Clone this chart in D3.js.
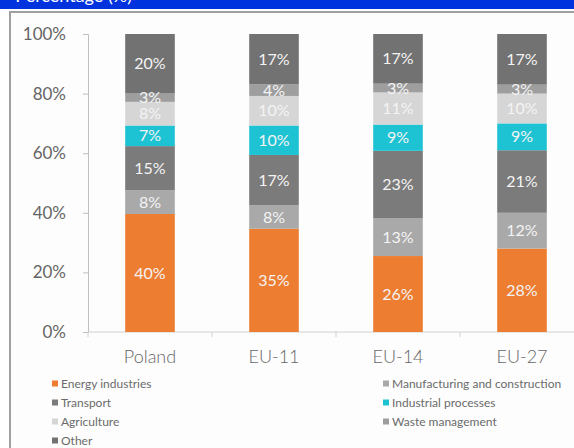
<!DOCTYPE html>
<html><head><meta charset="utf-8">
<script src="https://cdn.jsdelivr.net/npm/d3@7"></script>
<style>
html,body{margin:0;padding:0;background:#fff;}
svg{display:block;font-family:Lato,"Open Sans",sans-serif;}
</style></head>
<body>
<svg id="chart" width="574" height="448"></svg>
<script>
const categories = ["Poland", "EU-11", "EU-14", "EU-27"];
const seriesNames = ["Energy industries", "Manufacturing and construction", "Transport", "Industrial processes", "Agriculture", "Waste management", "Other"];
const energy        = [40, 35, 26, 28];
const manufacturing = [8, 8, 13, 12];
const transport     = [15, 17, 23, 21];
const industrial    = [7, 10, 9, 9];
const agriculture   = [8, 10, 11, 10];
const waste         = [3, 4, 3, 3];
const other         = [20, 17, 17, 17];
const yTicks = [0, 0.2, 0.4, 0.6, 0.8, 1];
const colors = ["#ED7D31", "#A9A9A9", "#7B7B7B", "#1EC3D3", "#D6D6D6", "#9E9E9E", "#727272"];

const seriesValues = [energy, manufacturing, transport, industrial, agriculture, waste, other];
const rows = categories.map((c, i) => {
  const r = {cat: c};
  seriesNames.forEach((s, j) => r[s] = seriesValues[j][i]);
  return r;
});
const stacked = d3.stack().keys(seriesNames).offset(d3.stackOffsetExpand)(rows);

const svg = d3.select("#chart");
// header band
svg.append("rect").attr("x",0).attr("y",0).attr("width",574).attr("height",9).attr("fill","#0033DD");
svg.append("text").attr("x",132).attr("y",2).attr("text-anchor","end").attr("font-size",18)
  .attr("fill","#fff").text("Percentage (%)");
// frame
svg.append("rect").attr("x",10).attr("y",12).attr("width",570).attr("height",440).attr("fill","#fdfdfd")
  .attr("stroke","#a0a0a0").attr("stroke-width",2);

const x = d3.scaleBand().domain(categories).range([88, 584]).paddingInner(0.6).paddingOuter(0.3);
const y = d3.scaleLinear().domain([0, 1]).range([332, 34]);

// y axis
const yAxis = svg.append("g").attr("transform","translate(88,0)")
  .call(d3.axisLeft(y).tickValues(yTicks).tickFormat(d3.format(".0%")).tickSize(5).tickPadding(17));
yAxis.select(".domain").attr("stroke","#bfbfbf");
yAxis.selectAll(".tick line").attr("stroke","#bfbfbf");
yAxis.selectAll(".tick text").attr("fill","#656565").attr("font-size",17).attr("font-family","Lato");

// x axis line and tick marks at category boundaries
const step = x.step();
const bounds = categories.map(c => x(c) + x.bandwidth()/2 - step/2).concat([x(categories[3]) + x.bandwidth()/2 + step/2]);
svg.append("line").attr("x1",88).attr("x2",574).attr("y1",332).attr("y2",332).attr("stroke","#d0d0d0");
svg.selectAll(".xt").data(bounds).join("line").attr("class","xt")
  .attr("x1",d=>d).attr("x2",d=>d).attr("y1",332).attr("y2",337).attr("stroke","#d0d0d0");
svg.selectAll(".xl").data(categories).join("text").attr("class","xl")
  .attr("x",d=>x(d)+x.bandwidth()/2).attr("y",363).attr("text-anchor","middle")
  .attr("font-size",18).attr("fill","#666").attr("font-weight",300).text(d=>d);

// bars
const layer = svg.selectAll(".layer").data(stacked).join("g").attr("class","layer")
  .attr("fill",(d,i)=>colors[i]);
layer.selectAll("rect").data(d=>d).join("rect")
  .attr("x",d=>x(d.data.cat)).attr("width",x.bandwidth())
  .attr("y",d=>y(d[1])).attr("height",d=>y(d[0])-y(d[1]));
// labels
const lab = svg.selectAll(".lab").data(stacked).join("g").attr("class","lab");
lab.selectAll("text").data(d=>d.map(p=>({p, key:d.key}))).join("text")
  .attr("x",d=>x(d.p.data.cat)+x.bandwidth()/2)
  .attr("y",d=>(y(d.p[0])+y(d.p[1]))/2)
  .attr("dy","0.35em").attr("text-anchor","middle").attr("font-size",16)
  .attr("fill","#f4f4f4")
  .text(d=>d.p.data[d.key]+"%");

// legend
const legendPos = [
  [52,384],[383,384],
  [52,403],[383,403],
  [52,422],[383,422],
  [52,441]
];
const leg = svg.selectAll(".leg").data(seriesNames).join("g").attr("class","leg")
  .attr("transform",(d,i)=>`translate(${legendPos[i][0]},${legendPos[i][1]})`);
leg.append("rect").attr("x",0).attr("y",-3.5).attr("width",6).attr("height",6).attr("fill",(d,i)=>colors[i]);
leg.append("text").attr("x",9).attr("dy","0.35em").attr("font-size",12).attr("fill","#6b6b6b").text(d=>d);
</script>
</body></html>
